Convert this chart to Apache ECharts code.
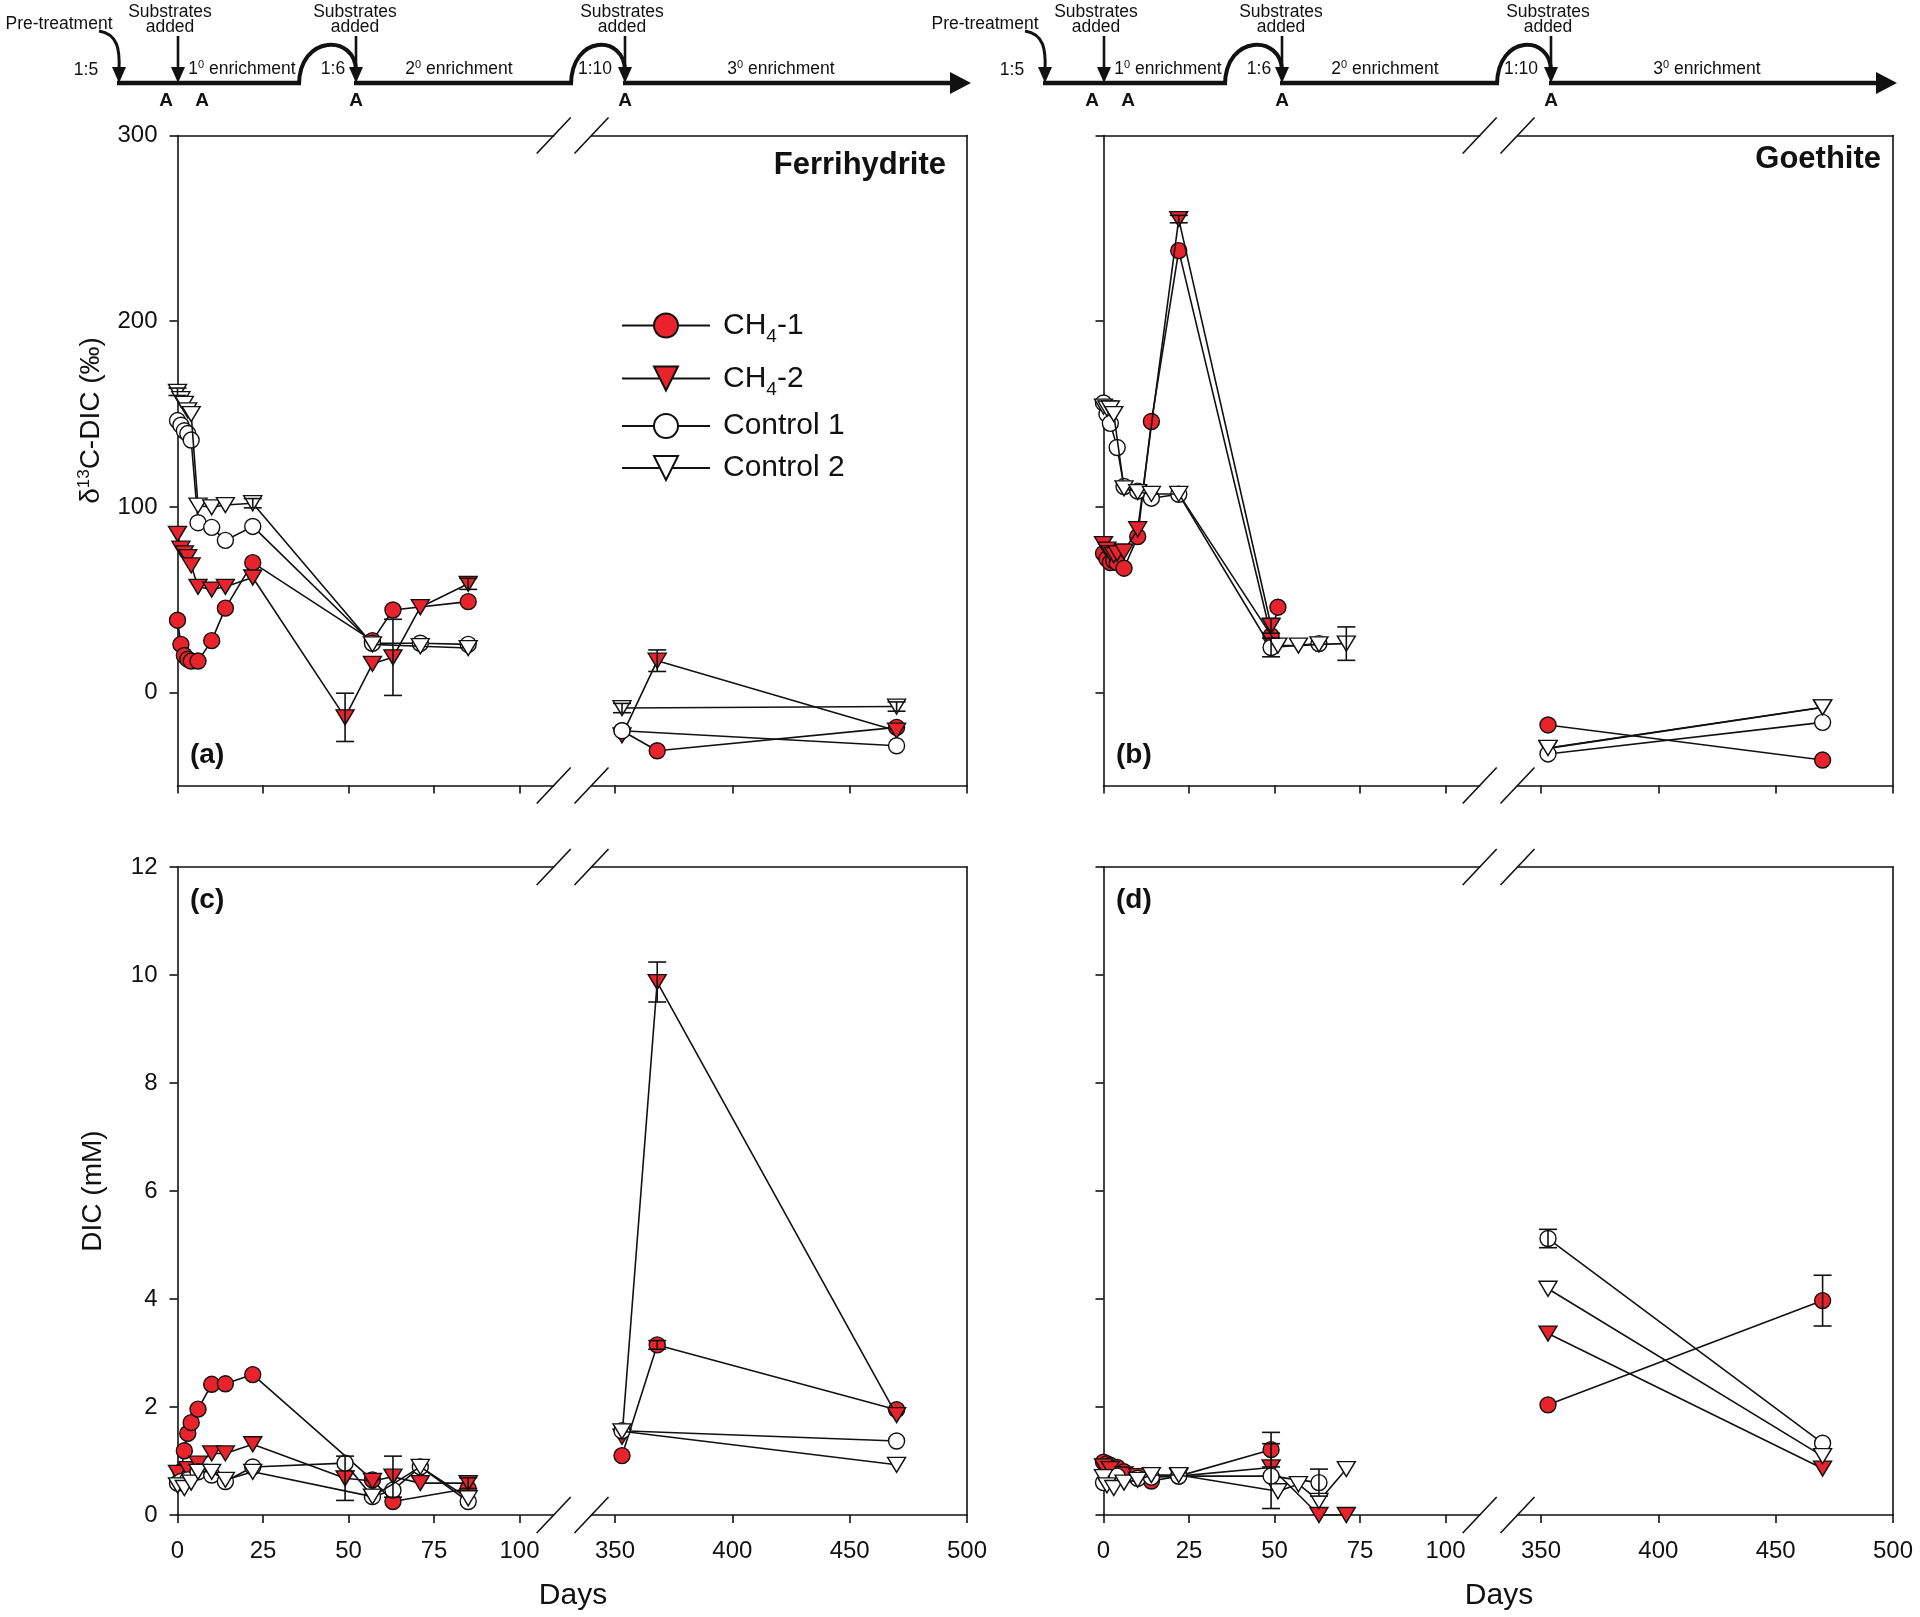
<!DOCTYPE html>
<html><head><meta charset="utf-8">
<script src="https://cdn.jsdelivr.net/npm/echarts@6/dist/echarts.min.js"></script>
<style>html,body{margin:0;padding:0;background:#fff}#c{width:1920px;height:1617px}</style>
</head><body><div id="c"></div>
<script>
// ---------------- DATA (day, value) ----------------
// (a) Ferrihydrite, δ13C-DIC (‰)
const aCH4_1 = [[0,39],[1,26],[2,20],[3,18],[4,17],[6,17],[10,28],[14,45.5],[22,70],[57,28],[63,44.5],[85,49],[353,-20.5],[368,-31.3],[470,-18.7]];
const aCH4_2 = [[0,85.5],[1,77.5],[2,75],[3,73],[4,68.5],[6,57],[10,55.5],[14,57],[22,62],[49,-13.3],[57,15.5],[63,19],[71,46],[85,58.6],[353,-23],[368,17.2],[470,-20.5]];
const aCtrl1 = [[0,146.5],[1,144],[2,141],[3,139.5],[4,136],[6,91.5],[10,89],[14,82],[22,89.5],[57,26.6],[71,26.6],[85,26],[353,-20.5],[470,-28.6]];
const aCtrl2 = [[0,162],[1,158],[2,155.5],[3,152],[4,150],[6,100.7],[10,99.8],[14,101],[22,102],[57,26],[71,25],[85,24],[353,-8.3],[470,-7.5]];
const aErr = [[49,-13.3,13],[63,19,20.5],[368,17.2,5.8],[22,102,2.5],[470,-7.5,2.5],[353,-8.3,2.5],[85,58.6,3],[0,162,2]];
// (b) Goethite, δ13C-DIC (‰)
const bCH4_1 = [[0,75],[1,72],[2,70],[3,71],[4,70],[6,67],[10,84],[14,146],[22,238],[49,30.5],[51,46],[353,-17.4],[470,-36.3]];
const bCH4_2 = [[0,80],[1,77],[2,75],[3,74],[4,75],[6,76],[10,88],[22,255],[49,36],[353,-30],[470,-8]];
const bCtrl1 = [[0,156],[1,150],[2,145],[4,132],[6,111],[10,108.5],[14,104.7],[22,106.8],[49,24.3],[63,26.4],[353,-33],[470,-16]];
const bCtrl2 = [[0,154],[1,153],[2,153],[3,150],[6,110],[10,108],[14,107],[22,107],[51,25.3],[57,25.3],[63,26],[71,26.4],[353,-29.8],[470,-7.9]];
const bErr = [[71,26.4,9],[49,24.3,5],[22,255,2],[49,36,4]];
// (c) Ferrihydrite, DIC (mM)
const cCH4_1 = [[1,0.8],[2,1.19],[3,1.51],[4,1.71],[6,1.96],[10,2.42],[14,2.43],[22,2.6],[57,0.65],[63,0.25],[85,0.49],[353,1.1],[368,3.15],[470,1.95]];
const cCH4_2 = [[0,0.78],[3,0.85],[6,0.95],[10,1.14],[14,1.14],[22,1.31],[49,0.68],[57,0.63],[63,0.71],[71,0.59],[85,0.59],[353,1.45],[368,9.87],[470,1.85]];
const cCtrl1 = [[0,0.59],[1,0.62],[3,0.65],[6,0.8],[10,0.74],[14,0.62],[22,0.89],[49,0.96],[57,0.34],[63,0.46],[71,0.89],[85,0.25],[353,1.56],[470,1.37]];
const cCtrl2 = [[0,0.55],[2,0.5],[4,0.6],[6,0.8],[10,0.8],[14,0.65],[22,0.8],[57,0.34],[71,0.89],[85,0.31],[353,1.55],[470,0.93]];
const cErr = [[49,0.68,0.41],[63,0.71,0.38],[368,9.87,0.37],[368,3.15,0.08],[85,0.59,0.1]];
// (d) Goethite, DIC (mM)
const dCH4_1 = [[0,0.98],[1,0.95],[2,0.92],[4,0.88],[6,0.8],[10,0.7],[14,0.63],[22,0.72],[49,1.21],[353,2.04],[470,3.97]];
const dCH4_2 = [[0,0.9],[2,0.85],[6,0.75],[10,0.72],[22,0.72],[49,0.88],[63,0],[71,0],[353,3.36],[470,0.86]];
const dCtrl1 = [[0,0.6],[2,0.65],[4,0.72],[10,0.68],[14,0.7],[22,0.72],[49,0.72],[63,0.6],[353,5.12],[470,1.33]];
const dCtrl2 = [[0,0.7],[1,0.55],[3,0.5],[6,0.6],[10,0.65],[14,0.74],[22,0.74],[51,0.44],[57,0.57],[63,0.26],[71,0.85],[353,4.19],[470,1.09]];
const dErr = [[49,1.21,0.32],[49,0.72,0.6],[63,0.6,0.25],[470,3.97,0.47],[353,5.12,0.17]];

const seriesNames = ['CH4-1','CH4-2','Control 1','Control 2'];
const xLeftTicks = [0,25,50,75,100];
const xRightTicks = [350,400,450,500];
const yTopTicks = [0,100,200,300];
const yBotTicks = [0,2,4,6,8,10,12];
const panelTitles = ['Ferrihydrite','Goethite'];
const panelLetters = ['(a)','(b)','(c)','(d)'];

// ---------------- STYLE / LAYOUT ----------------
const FONT = '"Liberation Sans", Arial, Helvetica, sans-serif';
const RED = '#e8232b';
const INK = '#111111';
const TRI = 'path://M0,0L20,0L10,17Z';
const L = { axisX: 177.5, colShift: 926, leftW: 376.2, rightX: 591.5, rightW: 375.5, rowTop: [135.5, 867], rowH: [650, 648] };
const xL = {min: 0, max: 110}, xR = {min: 340, max: 500};
const yS = [{min: -50, max: 300, ticks: yTopTicks}, {min: 0, max: 12, ticks: yBotTicks}];
const marks = [
  {symbol: 'circle', size: 16, fill: RED},
  {symbol: TRI, size: [18, 15], fill: RED},
  {symbol: 'circle', size: 16, fill: '#ffffff'},
  {symbol: TRI, size: [18, 15], fill: '#ffffff'}
];
const panels = [
  {row: 0, col: 0, data: [aCH4_1, aCH4_2, aCtrl1, aCtrl2], err: aErr},
  {row: 0, col: 1, data: [bCH4_1, bCH4_2, bCtrl1, bCtrl2], err: bErr},
  {row: 1, col: 0, data: [cCH4_1, cCH4_2, cCtrl1, cCtrl2], err: cErr},
  {row: 1, col: 1, data: [dCH4_1, dCH4_2, dCtrl1, dCtrl2], err: dErr}
];

const grid = [], xAxis = [], yAxis = [], series = [], graphic = [];
const axLine = {show: true, onZero: false, lineStyle: {color: INK, width: 1.6}};
const tickLab = {fontFamily: FONT, fontSize: 24, color: INK};

function errSeries(data, xi, yi) {
  return {
    type: 'custom', xAxisIndex: xi, yAxisIndex: yi, z: 6, silent: true,
    data: data.map(e => [e[0], e[1] - e[2], e[1] + e[2]]),
    encode: {x: 0, y: [1, 2]},
    renderItem: function (params, api) {
      const x = api.value(0);
      const lo = api.coord([x, api.value(1)]);
      const hi = api.coord([x, api.value(2)]);
      const w = 9, st = {stroke: INK, lineWidth: 1.6};
      return {type: 'group', children: [
        {type: 'line', shape: {x1: lo[0], y1: lo[1], x2: hi[0], y2: hi[1]}, style: st},
        {type: 'line', shape: {x1: lo[0] - w, y1: lo[1], x2: lo[0] + w, y2: lo[1]}, style: st},
        {type: 'line', shape: {x1: hi[0] - w, y1: hi[1], x2: hi[0] + w, y2: hi[1]}, style: st}
      ]};
    }
  };
}

panels.forEach((P, p) => {
  const top = L.rowTop[P.row], h = L.rowH[P.row], ox = P.col * L.colShift, ys = yS[P.row];
  const showX = P.row === 1, showY = P.col === 0;
  grid.push({left: L.axisX + ox, top: top, width: L.leftW, height: h});
  grid.push({left: L.rightX + ox, top: top, width: L.rightW, height: h});
  const gL = 2 * p, gR = 2 * p + 1;
  const xb = (g, r, ticks) => ({type: 'value', gridIndex: g, min: r.min, max: r.max, position: 'bottom',
    axisLine: axLine, splitLine: {show: false},
    axisTick: {show: true, inside: false, length: 8, customValues: ticks, lineStyle: {color: INK, width: 1.6}},
    axisLabel: Object.assign({show: showX, margin: 24, customValues: ticks}, tickLab)});
  const xt = (g, r) => ({type: 'value', gridIndex: g, min: r.min, max: r.max, position: 'top',
    axisLine: axLine, splitLine: {show: false}, axisTick: {show: false}, axisLabel: {show: false}});
  xAxis.push(xb(gL, xL, xLeftTicks), xt(gL, xL), xb(gR, xR, xRightTicks), xt(gR, xR));
  const yl = {type: 'value', gridIndex: gL, min: ys.min, max: ys.max, position: 'left',
    axisLine: axLine, splitLine: {show: false},
    axisTick: {show: true, inside: false, length: 8, customValues: ys.ticks, lineStyle: {color: INK, width: 1.6}},
    axisLabel: Object.assign({show: showY, margin: 20, customValues: ys.ticks}, tickLab)};
  if (showY) {
    yl.nameLocation = 'middle';
    if (P.row === 0) {
      yl.name = '{d|δ}{s|13}{d|C-DIC (‰)}';
      yl.nameGap = 70;
      yl.nameTextStyle = {padding: [0, 0, 0, 80], rich: {
        d: {fontFamily: FONT, fontSize: 28, color: INK, lineHeight: 32},
        s: {fontFamily: FONT, fontSize: 17, color: INK, lineHeight: 17, verticalAlign: 'top'}}};
    } else {
      yl.name = 'DIC (mM)';
      yl.nameGap = 70;
      yl.nameTextStyle = {fontFamily: FONT, fontSize: 28, color: INK};
    }
  }
  yAxis.push(yl);
  yAxis.push({type: 'value', gridIndex: gR, min: ys.min, max: ys.max, position: 'right',
    axisLine: axLine, splitLine: {show: false}, axisTick: {show: false}, axisLabel: {show: false}});

  P.data.forEach((arr, k) => {
    const m = marks[k];
    const base = {type: 'line', name: seriesNames[k], symbol: m.symbol, symbolSize: m.size, showSymbol: true,
      z: 2 + k, emphasis: {disabled: true}, silent: true,
      itemStyle: {color: m.fill, borderColor: INK, borderWidth: 1.4},
      lineStyle: {color: INK, width: 1.6}};
    series.push(Object.assign({}, base, {xAxisIndex: 4 * p, yAxisIndex: 2 * p, data: arr.filter(d => d[0] < 200)}));
    series.push(Object.assign({}, base, {xAxisIndex: 4 * p + 2, yAxisIndex: 2 * p + 1, data: arr.filter(d => d[0] >= 200)}));
  });
  series.push(errSeries(P.err.filter(e => e[0] < 200), 4 * p, 2 * p));
  series.push(errSeries(P.err.filter(e => e[0] >= 200), 4 * p + 2, 2 * p + 1));

  // axis-break marks
  [top, top + h].forEach(yy => {
    [L.axisX + L.leftW + ox, L.rightX + ox].forEach(xx => {
      graphic.push({type: 'line', shape: {x1: xx - 17, y1: yy + 18, x2: xx + 17, y2: yy - 18}, style: {stroke: INK, lineWidth: 1.6}});
    });
  });
  // panel letter
  graphic.push({type: 'text', x: 190 + ox, y: P.row === 0 ? 755 : 900,
    style: {text: panelLetters[p], fontFamily: FONT, fontSize: 28, fontWeight: 'bold', fill: INK, align: 'left', verticalAlign: 'middle'}});
  if (P.row === 0) {
    graphic.push({type: 'text', x: (P.col === 0 ? 946 : 1881), y: (P.col === 0 ? 165 : 159),
      style: {text: panelTitles[P.col], fontFamily: FONT, fontSize: 31, fontWeight: 'bold', fill: INK, align: 'right', verticalAlign: 'middle'}});
  } else {
    graphic.push({type: 'text', x: 573 + ox, y: 1596,
      style: {text: 'Days', fontFamily: FONT, fontSize: 30, fill: INK, align: 'center', verticalAlign: 'middle'}});
  }
});

// ---------------- timeline header ----------------
function header(ox) {
  const E = [];
  const FS = 17.5;
  const tx = (x, y, text, fs, extra) => E.push({type: 'text', x: x + ox, y: y,
    style: Object.assign({text: text, fontFamily: FONT, fontSize: fs, fill: INK, align: 'center', verticalAlign: 'middle'}, extra || {})});
  const ln = (x1, y1, x2, y2, w) => E.push({type: 'line', shape: {x1: x1 + ox, y1: y1, x2: x2 + ox, y2: y2}, style: {stroke: INK, lineWidth: w, lineCap: 'butt'}});
  const head = (x, y) => E.push({type: 'polygon', shape: {points: [[x - 7 + ox, y - 15], [x + 7 + ox, y - 15], [x + ox, y + 1]]}, style: {fill: INK}});
  const bez = (x1, y1, c1x, c1y, c2x, c2y, x2, y2, w) => E.push({type: 'bezierCurve',
    shape: {x1: x1 + ox, y1: y1, cpx1: c1x + ox, cpy1: c1y, cpx2: c2x + ox, cpy2: c2y, x2: x2 + ox, y2: y2},
    style: {stroke: INK, lineWidth: w, fill: null}});
  const sup = (a, b) => ({text: '{a|' + a + '}{s|0}{a|' + b + '}', rich: {
    a: {fontFamily: FONT, fontSize: FS, fill: INK, lineHeight: 19},
    s: {fontFamily: FONT, fontSize: 11, fill: INK, lineHeight: 11, verticalAlign: 'top'}}});
  const LY = 83;
  tx(59, 24, 'Pre-treatment', FS);
  bez(99, 31, 118, 34, 120, 50, 119, 70, 3);
  head(119, LY - 1);
  tx(86, 70, '1:5', FS);
  [[170, 178], [355, 356], [622, 625]].forEach(([tcx, ax]) => {
    tx(tcx, 12, 'Substrates', FS);
    tx(tcx, 27, 'added', FS);
    ln(ax, 36, ax, LY - 12, 2.6);
    head(ax, LY - 1);
  });
  E.push({type: 'text', x: 242 + ox, y: 69, style: Object.assign({align: 'center', verticalAlign: 'middle'}, sup('1', ' enrichment'))});
  E.push({type: 'text', x: 459 + ox, y: 69, style: Object.assign({align: 'center', verticalAlign: 'middle'}, sup('2', ' enrichment'))});
  E.push({type: 'text', x: 781 + ox, y: 69, style: Object.assign({align: 'center', verticalAlign: 'middle'}, sup('3', ' enrichment'))});
  tx(333, 69, '1:6', FS);
  tx(595, 69, '1:10', FS);
  // main line with humps
  ln(117, LY, 301, LY, 4.5);
  bez(299, LY + 2, 299, 34, 356, 34, 356, LY - 12, 4);
  ln(354, LY, 573, LY, 4.5);
  bez(571, LY + 2, 571, 34, 625, 34, 625, LY - 12, 4);
  ln(623, LY, 955, LY, 4.5);
  E.push({type: 'polygon', shape: {points: [[950 + ox, LY - 11], [971 + ox, LY], [950 + ox, LY + 11]]}, style: {fill: INK}});
  [166, 202, 356, 625].forEach(x => tx(x, 101, 'A', 19, {fontWeight: 'bold'}));
  return E;
}
graphic.push(...header(0), ...header(926));

const chart = echarts.init(document.getElementById('c'), null, {renderer: 'canvas'});
chart.setOption({
  animation: false,
  backgroundColor: '#ffffff',
  grid: grid, xAxis: xAxis, yAxis: yAxis, series: series,
  legend: {
    data: seriesNames, orient: 'vertical', left: 616, top: 300,
    itemWidth: 88, itemHeight: 30, itemGap: 12, selectedMode: false,
    formatter: name => name.startsWith('CH4') ? '{t|CH}{s|4}{t|' + name.slice(3) + '}' : '{t|' + name + '}',
    textStyle: {fontFamily: FONT, fontSize: 30, color: INK, padding: [0, 0, 0, 8],
      rich: {t: {fontFamily: FONT, fontSize: 30, color: INK, lineHeight: 34},
             s: {fontFamily: FONT, fontSize: 19, color: INK, lineHeight: 19, padding: [22, 0, 0, 0]}}}
  },
  graphic: graphic
});
</script></body></html>
